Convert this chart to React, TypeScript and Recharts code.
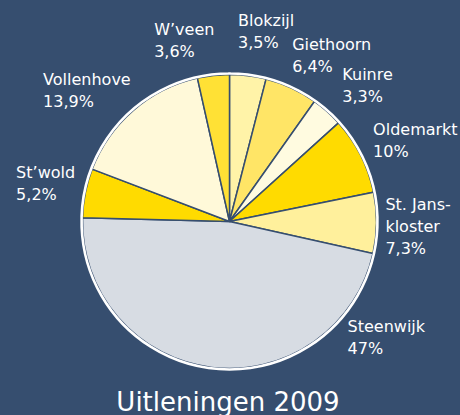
import React from 'react'
import { PieChart, Pie, Cell } from 'recharts'

// slice order runs clockwise from 12 o'clock
const NAMES = ['Blokzijl', 'Giethoorn', 'Kuinre', 'Oldemarkt', 'St. Jans-\nkloster', 'Steenwijk', 'St’wold', 'Vollenhove', 'W’veen']
// slice sizes as drawn (the printed percentages don't quite add up with the drawing)
const VALUES = [4.0, 5.8, 3.5, 8.5, 6.7, 46.9, 5.4, 15.7, 3.5]
const PCT_LABELS = ['3,5%', '6,4%', '3,3%', '10%', '7,3%', '47%', '5,2%', '13,9%', '3,6%']
const COLORS = ['#fff3a8', '#ffe566', '#fffbe0', '#ffdb00', '#fff09c', '#d7dce3', '#ffdb00', '#fff9d9', '#ffe135']

const BG = '#364e6f'
const FONT = '"DejaVu Sans", Verdana, sans-serif'
const LABEL_SIZE = 16
const LINE_H = 22
const RAD = Math.PI / 180
// label placement like Excel's "best fit": [angle clockwise from top, gap from the rim]
const LABEL_PLACE: [number, number][] = [
  [10.6, 23], [29.5, 20], [45, 22], [64.3, 16], [91.8, 8], [129, 15], [282, 10.5], [315.6, 12], [346.5, 15.6],
]

const data = NAMES.map((name, i) => ({ name, value: VALUES[i] }))

let ctx: CanvasRenderingContext2D | null = null
function textWidth(s: string) {
  if (!ctx) ctx = document.createElement('canvas').getContext('2d')
  if (!ctx) return s.length * 9
  ctx.font = `${LABEL_SIZE}px "DejaVu Sans"`
  return ctx.measureText(s).width
}

function renderLabel(props: any) {
  const { cx, cy, outerRadius, index } = props
  const lines = [...NAMES[index].split('\n'), PCT_LABELS[index]]
  const w = Math.max(...lines.map(textWidth))
  const h = lines.length * LINE_H
  const [theta, gap] = LABEL_PLACE[index]
  const s = Math.sin(theta * RAD)
  const c = Math.cos(theta * RAD)
  const r = outerRadius + 1 + gap
  const px = cx + r * s
  const py = cy - r * c
  const left = px + (s * w) / 2 - w / 2
  const top = py - (c * h) / 2 - h / 2
  return (
    <text key={`lbl-${index}`} x={left} y={top} fill="#fff" fontSize={LABEL_SIZE} fontFamily={FONT}>
      {lines.map((l, i) => (
        <tspan key={i} x={left} y={top + 16 + i * LINE_H}>{l}</tspan>
      ))}
    </text>
  )
}

export default function App() {
  return (
    <div style={{ position: 'relative', width: 460, height: 415, background: BG, overflow: 'hidden' }}>
      <style>{'body{margin:0}'}</style>
      <PieChart width={460} height={415} margin={{ top: 0, right: 0, bottom: 0, left: 0 }}>
        <Pie
          data={data}
          dataKey="value"
          cx={229.5}
          cy={221.5}
          outerRadius={147}
          startAngle={90}
          endAngle={-270}
          label={renderLabel}
          labelLine={false}
          isAnimationActive={false}
        >
          {data.map((_, i) => <Cell key={i} fill={COLORS[i]} stroke={BG} strokeWidth={1.5} />)}
        </Pie>
        <Pie
          data={[{ value: 1 }]}
          dataKey="value"
          cx={229.5}
          cy={221.5}
          innerRadius={147.9}
          outerRadius={148}
          startAngle={90}
          endAngle={-270}
          fill="none"
          stroke="#fff"
          strokeWidth={2.5}
          isAnimationActive={false}
        />
      </PieChart>
      <svg width={460} height={415} style={{ position: 'absolute', left: 0, top: 0, pointerEvents: 'none' }}>
        <text x={228} y={411} textAnchor="middle" fill="#fff" fontSize={26} fontFamily={FONT}>Uitleningen 2009</text>
      </svg>
    </div>
  )
}
